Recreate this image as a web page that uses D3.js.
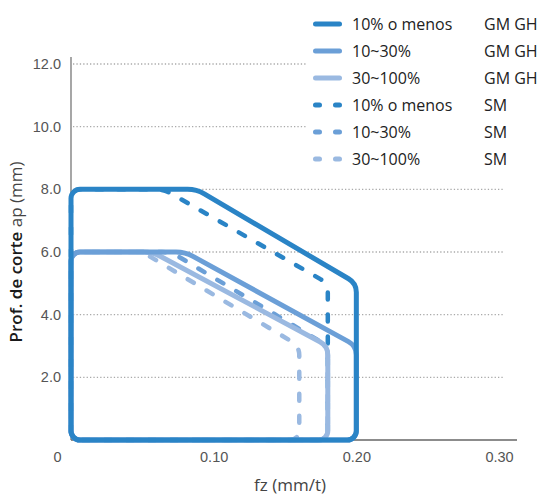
<!DOCTYPE html>
<html lang="es">
<head>
<meta charset="UTF-8">
<script src="https://cdn.jsdelivr.net/npm/d3@7"></script>
<style>
  body { margin: 0; background: #fff; }
  svg { display: block; font-family: "Open Sans", sans-serif; }
  .grid line { stroke: #aaa; stroke-width: 1.4; stroke-dasharray: 1.3 2.1; }
  .tick text { fill: #555; font-size: 14.5px; }
  .curve { fill: none; stroke-linejoin: round; stroke-linecap: round; }
</style>
</head>
<body>
<script>
// data (fz in mm/t, ap in mm), each shape runs round from the origin
var fzGM10 = [0, 0, 0.088, 0.2, 0.2],    apGM10 = [0, 8, 8, 5.0, 0];
var fzGM30 = [0, 0, 0.080, 0.2, 0.2],    apGM30 = [0, 6, 6, 3.0, 0];
var fzGM100 = [0, 0, 0.057, 0.18, 0.18], apGM100 = [0, 6, 6, 3.0, 0];
var fzSM10 = [0, 0, 0.065, 0.18, 0.18],  apSM10 = [0, 8, 8, 5.0, 0];
var fzSM30 = [0, 0, 0.070, 0.18, 0.18],  apSM30 = [0, 6, 6, 3.0, 0];
var fzSM100 = [0, 0, 0.050, 0.16, 0.16], apSM100 = [0, 6, 6, 3.0, 0];

var rangeNames = ["10% o menos", "10~30%", "30~100%", "10% o menos", "10~30%", "30~100%"];
var grades = ["GM GH", "GM GH", "GM GH", "SM", "SM", "SM"];
var xTicks = [0, 0.1, 0.2, 0.3];
var yTicks = [2, 4, 6, 8, 10, 12];

var width = 543, height = 499;
var colors = ["#2a84c6", "#6b9fd7", "#9ab9e1"];

var svg = d3.select("body").append("svg").attr("width", width).attr("height", height);

var x = d3.scaleLinear().domain([0, 0.3]).range([71, 499]);
var y = d3.scaleLinear().domain([0, 12]).range([440, 64]);

// gridlines
svg.append("g").attr("class", "grid")
  .selectAll("line").data(yTicks).enter().append("line")
  .attr("x1", x(0) + 2).attr("x2", x(0.3) + 4)
  .attr("y1", function(d){ return y(d); }).attr("y2", function(d){ return y(d); });

// axes lines
svg.append("line").attr("x1", x(0)).attr("x2", x(0)).attr("y1", y(12) - 7).attr("y2", y(0))
  .attr("stroke", "#777").attr("stroke-width", 1.3);
svg.append("line").attr("x1", x(0)).attr("x2", x(0.3) + 18).attr("y1", y(0)).attr("y2", y(0))
  .attr("stroke", "#666").attr("stroke-width", 1.3);

var yAxis = svg.append("g").attr("transform", "translate(" + x(0) + ",0)")
  .call(d3.axisLeft(y).tickValues(yTicks).tickSize(0).tickPadding(10).tickFormat(d3.format(".1f")));
yAxis.select(".domain").remove();

var xAxis = svg.append("g").attr("transform", "translate(0," + y(0) + ")")
  .call(d3.axisBottom(x).tickValues(xTicks).tickSize(0).tickPadding(12)
    .tickFormat(function(d){ return d === 0 ? "0" : d3.format(".2f")(d); }));
xAxis.select(".domain").remove();
xAxis.selectAll(".tick text").filter(function(d){ return d === 0; }).attr("dx", -14);

// rounded closed outline: every corner gets the same tangent length t
function rounded(fz, ap, t) {
  var pts = fz.map(function(v, i){ return [x(v), y(ap[i])]; });
  var n = pts.length, p = d3.path();
  var a = pts[n - 1], b = pts[0];
  p.moveTo((a[0] + b[0]) / 2, (a[1] + b[1]) / 2);
  for (var i = 0; i < n; i++) {
    var cur = pts[i], nx = pts[(i + 1) % n], pv = pts[(i - 1 + n) % n];
    var v1 = [pv[0] - cur[0], pv[1] - cur[1]], v2 = [nx[0] - cur[0], nx[1] - cur[1]];
    var cos = (v1[0]*v2[0] + v1[1]*v2[1]) / (Math.hypot(v1[0], v1[1]) * Math.hypot(v2[0], v2[1]));
    var ang = Math.acos(Math.max(-1, Math.min(1, cos)));
    p.arcTo(cur[0], cur[1], nx[0], nx[1], t * Math.tan(ang / 2));
  }
  p.closePath();
  return p.toString();
}

var series = [
  { fz: fzSM100, ap: apSM100, c: colors[2], dash: true },
  { fz: fzSM30, ap: apSM30, c: colors[1], dash: true },
  { fz: fzSM10, ap: apSM10, c: colors[0], dash: true },
  { fz: fzGM100, ap: apGM100, c: colors[2], dash: false },
  { fz: fzGM30, ap: apGM30, c: colors[1], dash: false },
  { fz: fzGM10, ap: apGM10, c: colors[0], dash: false }
];

svg.append("g").selectAll("path").data(series).enter().append("path")
  .attr("class", "curve")
  .attr("d", function(d){ return rounded(d.fz, d.ap, 9); })
  .attr("stroke", function(d){ return d.c; })
  .attr("stroke-width", function(d){ return d.dash ? 4.5 : 5; })
  .attr("stroke-dasharray", function(d){ return d.dash ? "7 15" : null; });

// legend
var lg = svg.append("g");
lg.append("rect").attr("x", 306).attr("y", 8).attr("width", 237).attr("height", 165).attr("fill", "#fff");
var row = lg.selectAll("g.row").data(rangeNames).enter().append("g").attr("class", "row")
  .attr("transform", function(d, i){ return "translate(0," + (24 + i * 27) + ")"; });
row.append("line")
  .attr("x1", 315.5).attr("x2", 339.5)
  .attr("stroke", function(d, i){ return colors[i % 3]; })
  .attr("stroke-width", 5).attr("stroke-linecap", "round")
  .attr("stroke-dasharray", function(d, i){ return i >= 3 ? "4 16" : null; });
row.append("text").attr("x", 352).attr("y", 6).attr("font-size", 16).attr("fill", "#222")
  .text(function(d){ return d; });
row.append("text").attr("x", 484).attr("y", 6).attr("font-size", 16).attr("fill", "#222")
  .text(function(d, i){ return grades[i]; });

// axis titles
var yt = svg.append("text").attr("transform", "translate(22,252) rotate(-90)")
  .attr("text-anchor", "middle").attr("font-size", 17);
yt.append("tspan").attr("fill", "#1a1a1a").attr("font-weight", 600).text("Prof. de corte ");
yt.append("tspan").attr("fill", "#444").text("ap (mm)");

svg.append("text").attr("x", 290).attr("y", 491).attr("text-anchor", "middle")
  .attr("font-size", 17).attr("fill", "#444").text("fz (mm/t)");
</script>
</body>
</html>
